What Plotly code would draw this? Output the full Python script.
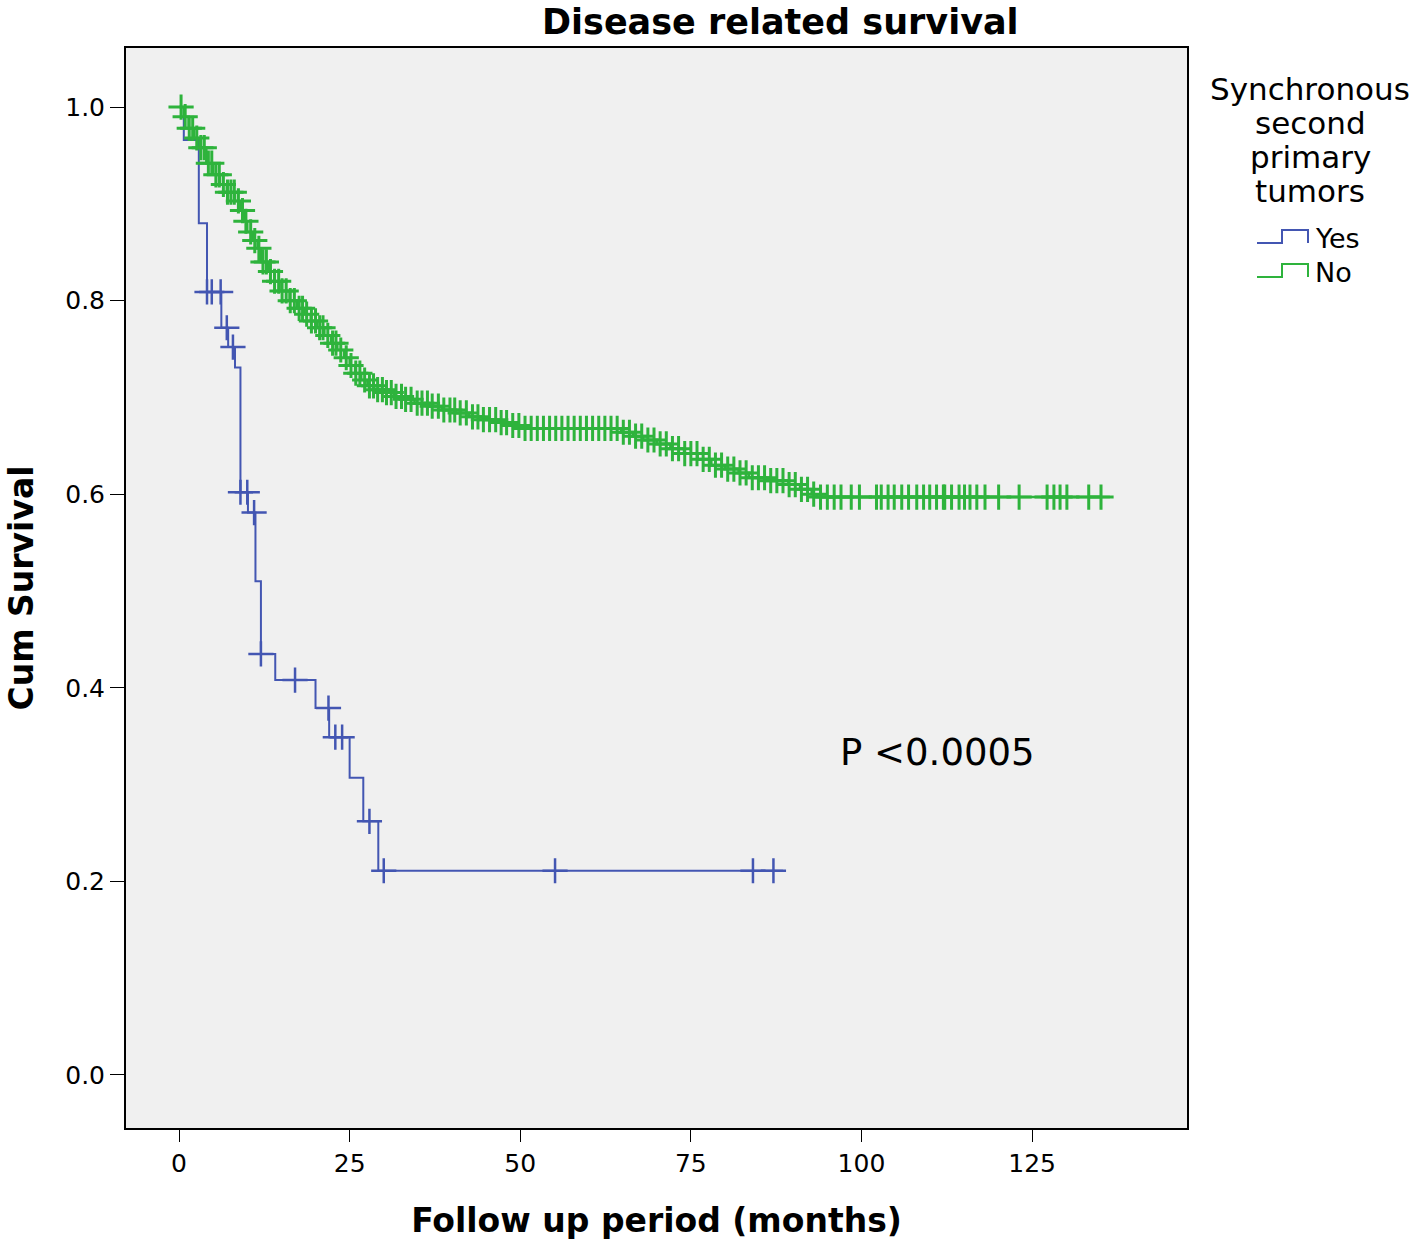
import plotly.graph_objects as go
import numpy as np

# ---- Data ----
# Synchronous second primary tumors = Yes (blue)
yes_times = [0, 0.7, 2.9, 4.1, 6.2, 7.2, 8.2, 9.0, 10.1, 11.2, 12.0, 14.1, 20.0, 22.0, 25.0, 27.0, 29.2, 88.5]
yes_surv = [1.0, 0.966, 0.880, 0.809, 0.772, 0.752, 0.731, 0.602, 0.581, 0.510, 0.435, 0.408, 0.379, 0.349, 0.307, 0.262, 0.211, 0.211]
yes_censor = [4.1, 4.8, 6.1, 7.0, 7.9, 9.0, 10.0, 11.0, 12.0, 17.0, 21.9, 22.9, 23.9, 27.9, 30.0, 55.1, 84.1, 87.1]

# No (green)
no_times = [0, 0.7, 1.4, 2.2, 3.0, 4.0, 5.0, 6.0, 7.0, 8.2, 9.0, 9.6, 10.0, 10.8, 11.5, 12.0,
            13.0, 14.0, 15.0, 16.2, 17.3, 18.4, 19.3, 20.2, 21.3, 22.3, 23.2, 24.2, 25.0, 25.8,
            26.7, 27.6, 28.6, 30.0, 31.5, 33.0, 34.5, 36.5, 38.5, 40.5, 42.5, 44.5, 46.5, 48.5,
            50.5, 64.8, 66.5, 68.0, 70.0, 72.0, 74.0, 76.0, 78.0, 80.0, 82.0, 83.5, 86.0, 89.3,
            91.0, 92.7, 93.5, 136.4]
no_surv = [1.0, 0.990, 0.978, 0.968, 0.958, 0.942, 0.930, 0.920, 0.912, 0.903, 0.893, 0.882, 0.871, 0.862, 0.854, 0.840,
           0.830, 0.820, 0.810, 0.800, 0.792, 0.786, 0.779, 0.772, 0.764, 0.756, 0.749, 0.741, 0.733, 0.725,
           0.718, 0.712, 0.708, 0.705, 0.701, 0.698, 0.694, 0.691, 0.687, 0.684, 0.680, 0.677, 0.674, 0.671,
           0.668, 0.664, 0.660, 0.656, 0.652, 0.647, 0.642, 0.636, 0.630, 0.626, 0.622, 0.617, 0.614, 0.610,
           0.605, 0.600, 0.597, 0.597]
no_censor = [0.3, 0.9, 1.5, 2.0, 2.6, 3.2, 3.7, 4.3, 4.8, 5.4, 5.9, 6.5, 7.1, 7.6, 8.1, 8.7, 9.3, 9.8,
             10.5, 11.1, 11.7, 12.3, 12.8, 13.4, 14.0, 14.6, 15.1, 15.7, 16.3, 16.9, 17.6, 18.1, 18.7,
             19.4, 20.0, 20.6, 21.1, 21.8, 22.5, 23.0, 23.7, 24.5, 25.2, 25.9, 26.5, 27.2, 27.9, 28.5,
             29.1, 29.8, 30.4, 31.1, 31.8, 32.6, 33.2, 34.0, 34.9, 35.6, 36.4, 37.1, 38.0, 38.8, 39.7,
             40.4, 41.2, 42.1, 43.0, 43.8, 44.6, 45.5, 46.4, 47.2, 48.0, 48.9, 49.8, 50.7, 51.6, 52.5,
             53.4, 54.3, 55.2, 56.1, 57.0, 57.9, 58.8, 59.7, 60.6, 61.5, 62.4, 63.3, 64.2, 65.1, 66.0,
             66.9, 67.8, 68.7, 69.6, 70.5, 71.4, 72.3, 73.2, 74.1, 75.0, 75.9, 76.8, 77.7, 78.6, 79.5,
             80.4, 81.3, 82.2, 83.1, 84.0, 84.9, 85.8, 86.7, 87.6, 88.5, 89.4, 90.3, 91.2, 92.1, 93.0,
             94.0, 95.0, 96.0, 97.0, 98.5, 99.7, 102.2, 102.9, 103.9, 104.8, 105.9, 106.9, 108.1, 109.1,
             110.0, 111.0, 112.0, 112.2, 113.2, 114.3, 115.1, 115.9, 116.9, 118.1, 120.1, 123.1, 127.2,
             128.2, 129.1, 130.1, 133.3, 135.1]

x_ticks = [0, 25, 50, 75, 100, 125]
y_ticks = [0.0, 0.2, 0.4, 0.6, 0.8, 1.0]

BLUE = "#4356B2"
GREEN = "#2EB33C"
FONT = "DejaVu Sans"


def surv_at(times, surv, t):
    idx = np.searchsorted(np.array(times), t, side="right") - 1
    return surv[max(idx, 0)]


fig = go.Figure()

for times, surv, cens, col, name, lw in [
    (yes_times, yes_surv, yes_censor, BLUE, "Yes", 2),
    (no_times, no_surv, no_censor, GREEN, "No", 2.5),
]:
    fig.add_trace(go.Scatter(x=times, y=surv, mode="lines", line=dict(color=col, width=lw, shape="hv"),
                             name=name, showlegend=False, hoverinfo="skip"))
    fig.add_trace(go.Scatter(x=cens, y=[surv_at(times, surv, c) for c in cens], mode="markers",
                             marker=dict(symbol="cross-thin", size=18, line=dict(color=col, width=lw + 0.5)),
                             showlegend=False, hoverinfo="skip"))

# plot area in pixels
L, R, T, B = 126, 1187, 48, 1128
W, H = 1418, 1248


def px(x):
    return (x - L) / (R - L)


def py(y):
    return (B - y) / (B - T)


annotations = [
    dict(text="<b>Disease related survival</b>", x=px(780), y=py(22), xref="paper", yref="paper",
         showarrow=False, font=dict(size=35, family=FONT, color="black"), xanchor="center", yanchor="middle"),
    dict(text="P &lt;0.0005", x=px(838), y=py(752), xref="paper", yref="paper",
         showarrow=False, font=dict(size=37, family=FONT, color="black"), xanchor="left", yanchor="middle"),
]
for i, line in enumerate(["Synchronous", "second", "primary", "tumors"]):
    annotations.append(dict(text=line, x=px(1310), y=py(89 + i * 34), xref="paper", yref="paper",
                            showarrow=False, font=dict(size=31, family=FONT, color="black"),
                            xanchor="center", yanchor="middle"))

shapes = []
for yc, col, label in [(237, BLUE, "Yes"), (271, GREEN, "No")]:
    x0, x1, x2 = 1257, 1282, 1308
    ylo, yhi = yc + 6, yc - 7
    path = (f"M {px(x0)},{py(ylo)} L {px(x1)},{py(ylo)} L {px(x1)},{py(yhi)} "
            f"L {px(x2)},{py(yhi)} L {px(x2)},{py(ylo)}")
    shapes.append(dict(type="path", path=path, xref="paper", yref="paper",
                       line=dict(color=col, width=2)))
    annotations.append(dict(text=label, x=px(1313), y=py(yc + 1), xref="paper", yref="paper",
                            showarrow=False, font=dict(size=27, family=FONT, color="black"),
                            xanchor="left", yanchor="middle"))

fig.update_layout(
    width=W, height=H,
    margin=dict(l=L, r=W - R, t=T, b=H - B),
    paper_bgcolor="white", plot_bgcolor="#F0F0F0",
    font=dict(family=FONT, color="black"),
    annotations=annotations, shapes=shapes, showlegend=False,
)
fig.update_xaxes(range=[-7.77, 147.7], tickvals=x_ticks, ticktext=[str(v) for v in x_ticks],
                 showgrid=False, zeroline=False, showline=True, linecolor="black", linewidth=2, mirror=True,
                 ticks="outside", ticklen=12, tickwidth=1, tickcolor="black",
                 tickfont=dict(size=25, family=FONT),
                 title=dict(text="<b>Follow up period (months)</b>", font=dict(size=33, family=FONT), standoff=32))
fig.update_yaxes(range=[-0.0548, 1.061], tickvals=y_ticks, ticktext=[f"{v:.1f}" for v in y_ticks],
                 showgrid=False, zeroline=False, showline=True, linecolor="black", linewidth=2, mirror=True,
                 ticks="outside", ticklen=14, tickwidth=1, tickcolor="black",
                 tickfont=dict(size=25, family=FONT),
                 title=dict(text="<b>Cum Survival</b>", font=dict(size=33, family=FONT), standoff=22))

fig.write_html("out.html", config={"displayModeBar": False},
               post_script="document.body.style.margin='0';document.body.style.padding='0';")
